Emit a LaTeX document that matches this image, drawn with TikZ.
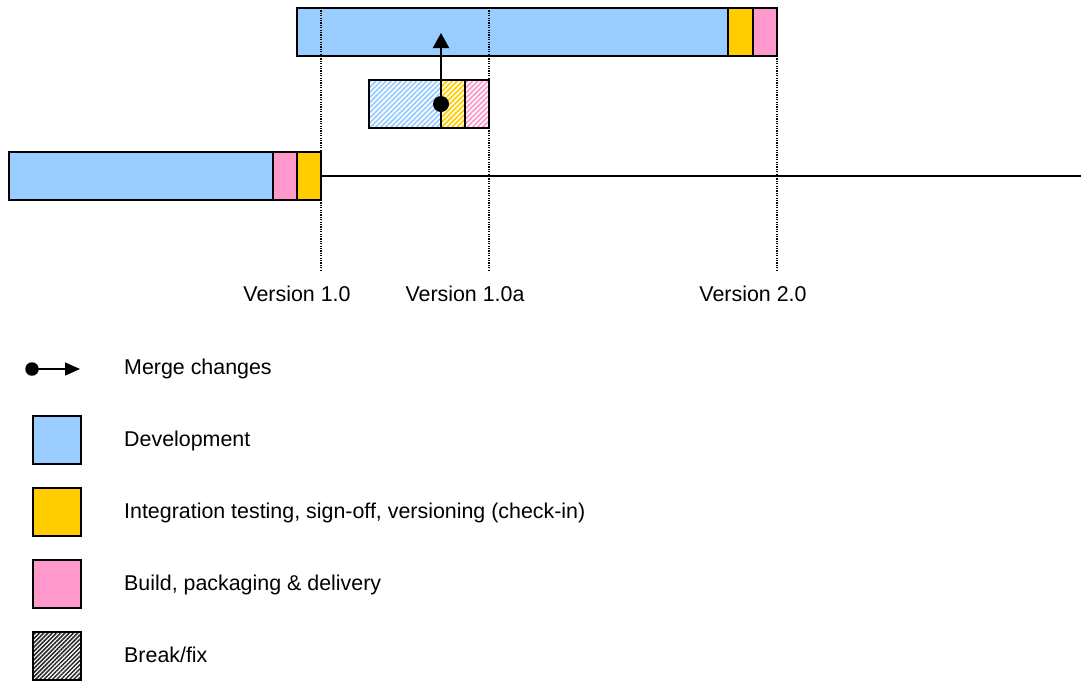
\documentclass[tikz,border=0pt]{standalone}
\usepackage{fontspec}
\setmainfont{Liberation Sans}
\usetikzlibrary{arrows.meta,patterns.meta}
\definecolor{devblue}{HTML}{99CCFF}
\definecolor{intyellow}{HTML}{FFCC00}
\definecolor{buildpink}{HTML}{FF99CC}
\begin{document}
\begin{tikzpicture}[x=1pt,y=-1pt,
  seg/.style={draw=black,line width=1.5pt,inner sep=0pt,outer sep=0pt,minimum height=48pt,anchor=north west},
  hatchseg/.style={seg,pattern={Lines[angle=45,distance=3.6pt,line width=1.8pt]},pattern color=#1},
  vline/.style={line width=1.2pt,dash pattern=on 1.2pt off 1.2pt,black},
  lbl/.style={font=\fontsize{21.4}{25}\selectfont,anchor=base,inner sep=0pt},
  leg/.style={font=\fontsize{21.4}{25}\selectfont,anchor=base west,inner sep=0pt},
  legbox/.style={draw=black,line width=1.5pt,inner sep=0pt,minimum width=48pt,minimum height=48pt}]
\useasboundingbox (0,0) rectangle (1081,681);
% top bar (version 2.0)
\node[seg,fill=devblue,minimum width=431pt] (t1) at (297,8) {};
\node[seg,fill=intyellow,minimum width=25pt] (t2) at (728,8) {};
\node[seg,fill=buildpink,minimum width=24pt] (t3) at (753,8) {};
% small hatched bar (version 1.0a)
\node[hatchseg=devblue,minimum width=72pt] (s1) at (369,80) {};
\node[hatchseg=intyellow,minimum width=24pt] (s2) at (441,80) {};
\node[hatchseg=buildpink,minimum width=24pt] (s3) at (465,80) {};
% lower bar (version 1.0)
\node[seg,fill=devblue,minimum width=264pt] (b1) at (9,152) {};
\node[seg,fill=buildpink,minimum width=24pt] (b2) at (273,152) {};
\node[seg,fill=intyellow,minimum width=24pt] (b3) at (297,152) {};
\coordinate (lineend) at (1081,176);
\draw[line width=1.2pt] (b3.east) -- (lineend);
% dotted version lines
\coordinate (v1top) at (321,8);   \coordinate (v1bot) at (321,270);
\coordinate (v2top) at (489,8);   \coordinate (v2bot) at (489,270);
\coordinate (v3top) at (777,56);  \coordinate (v3bot) at (777,270);
\draw[vline] (v1top) -- (v1bot);
\draw[vline] (v2top) -- (v2bot);
\draw[vline] (v3top) -- (v3bot);
% merge arrow
\node[circle,fill=black,inner sep=0pt,minimum size=16pt] (dot) at (441,104) {};
\coordinate (tip) at (441,33);
\draw[line width=2pt,-{Triangle[length=15pt,width=16pt]}] (dot.center) -- (tip);
% version labels
\node[lbl] (l1) at (297,301) {Version 1.0};
\node[lbl] (l2) at (465,301) {Version 1.0a};
\node[lbl] (l3) at (753,301) {Version 2.0};
% legend
\node[circle,fill=black,inner sep=0pt,minimum size=13.5pt] (ldot) at (32,369) {};
\coordinate (ltip) at (80,369);
\draw[line width=1.4pt,-{Triangle[length=15pt,width=13pt]}] (ldot.center) -- (ltip);
\node[leg] (t-merge) at (124,374) {Merge changes};
\node[legbox,fill=devblue] (k1) at (57,440) {};
\node[leg] (t-dev) at (124,446) {Development};
\node[legbox,fill=intyellow] (k2) at (57,512) {};
\node[leg] (t-int) at (124,518) {Integration testing, sign-off, versioning (check-in)};
\node[legbox,fill=buildpink] (k3) at (57,584) {};
\node[leg] (t-build) at (124,590) {Build, packaging \& delivery};
\node[legbox,pattern={Lines[angle=45,distance=3pt,line width=1.5pt]},pattern color=black!85] (k4) at (57,656) {};
\node[leg] (t-fix) at (124,662) {Break/fix};
\end{tikzpicture}
\end{document}
